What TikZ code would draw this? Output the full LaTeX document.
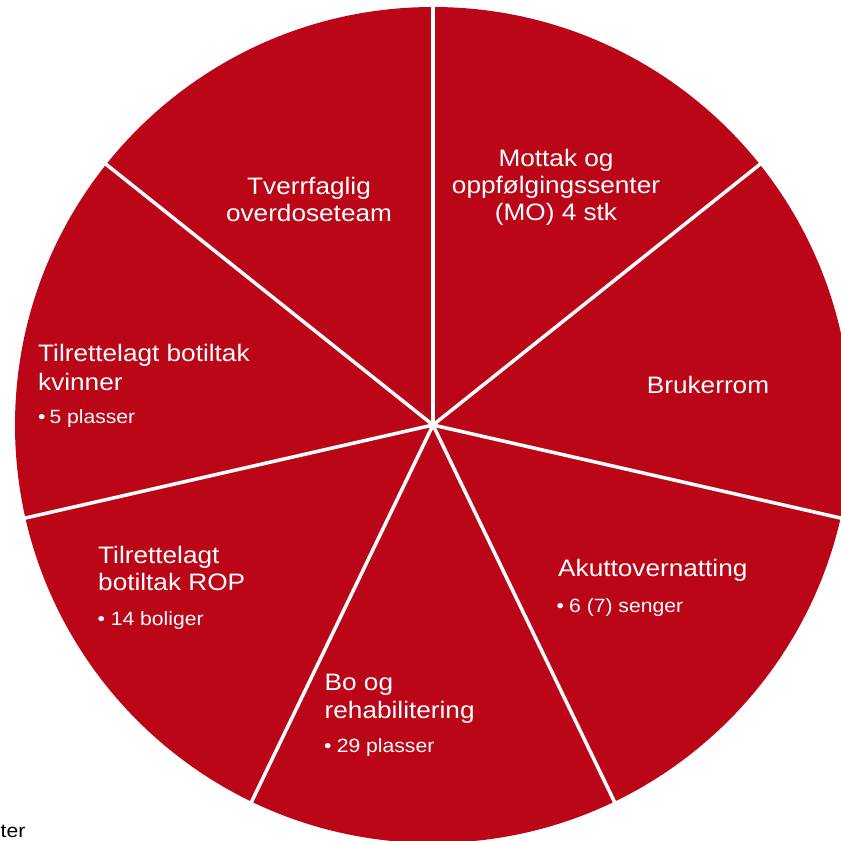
\documentclass[tikz,border=0pt]{standalone}
\usepackage{fontspec}
\setmainfont{Liberation Sans}
\newfontfamily\labfont[FakeStretch=1.1]{Liberation Sans}
\usetikzlibrary{calc}
\definecolor{piered}{RGB}{187,6,24}
\begin{document}
\begin{tikzpicture}[x=1pt,y=-1pt,
  mainlab/.style={text=white,font=\labfont\fontsize{23.8}{28}\selectfont,inner sep=0pt},
  sublab/.style={text=white,font=\labfont\fontsize{19.2}{22}\selectfont,inner sep=0pt},
  seam/.style={white,line width=3.5pt},
  outside/.style={text=black,font=\labfont\fontsize{19.2}{22}\selectfont,inner sep=0pt}]
\useasboundingbox (0,0) rectangle (841,841);
\clip (0,0) rectangle (841,841);
\coordinate (c) at (433,425);
\fill[piered] (c) circle[radius=418];
\foreach \k in {0,...,6} {
  \coordinate (e\k) at ($(c)+({-90+\k*360/7}:425)$);
  \draw[seam] (c) -- (e\k);
}
% Mottak
\node[mainlab,anchor=base] (m1) at (556,166.7) {Mottak og};
\node[mainlab,anchor=base] (m2) at (556,193.3) {oppfølgingssenter};
\node[mainlab,anchor=base] (m3) at (556,220) {(MO) 4 stk};
% Tverrfaglig
\node[mainlab,anchor=base] (t1) at (309,194.5) {Tverrfaglig};
\node[mainlab,anchor=base] (t2) at (309,221.7) {overdoseteam};
% Brukerrom
\node[mainlab,anchor=base] (b1) at (708,393) {Brukerrom};
% Tilrettelagt botiltak kvinner
\node[mainlab,anchor=base west] (k1) at (38,361.7) {Tilrettelagt botiltak};
\node[mainlab,anchor=base west] (k2) at (38,390) {kvinner};
\node[sublab,anchor=base west] (kb) at (38,423.5) {•};
\node[sublab,anchor=base west] (k3) at (49.3,423.5) {5 plasser};
% Akuttovernatting
\node[mainlab,anchor=base west] (a1) at (558,576.7) {Akuttovernatting};
\node[sublab,anchor=base west] (ab) at (556.5,612.7) {•};
\node[sublab,anchor=base west] (a2) at (569,612.7) {6 (7) senger};
% Bo og rehabilitering
\node[mainlab,anchor=base west] (r1) at (324.5,690) {Bo og};
\node[mainlab,anchor=base west] (r2) at (324.5,718.3) {rehabilitering};
\node[sublab,anchor=base west] (rb) at (324,752.3) {•};
\node[sublab,anchor=base west] (r3) at (336.7,752.3) {29 plasser};
% Tilrettelagt botiltak ROP
\node[mainlab,anchor=base west] (p1) at (98,563.3) {Tilrettelagt};
\node[mainlab,anchor=base west] (p2) at (98,590) {botiltak ROP};
\node[sublab,anchor=base west] (pb) at (97.5,625) {•};
\node[sublab,anchor=base west] (p3) at (110.7,625) {14 boliger};
% cut-off text
\node[outside,anchor=base east] (ter) at (25.5,837) {ter};
\end{tikzpicture}
\end{document}
